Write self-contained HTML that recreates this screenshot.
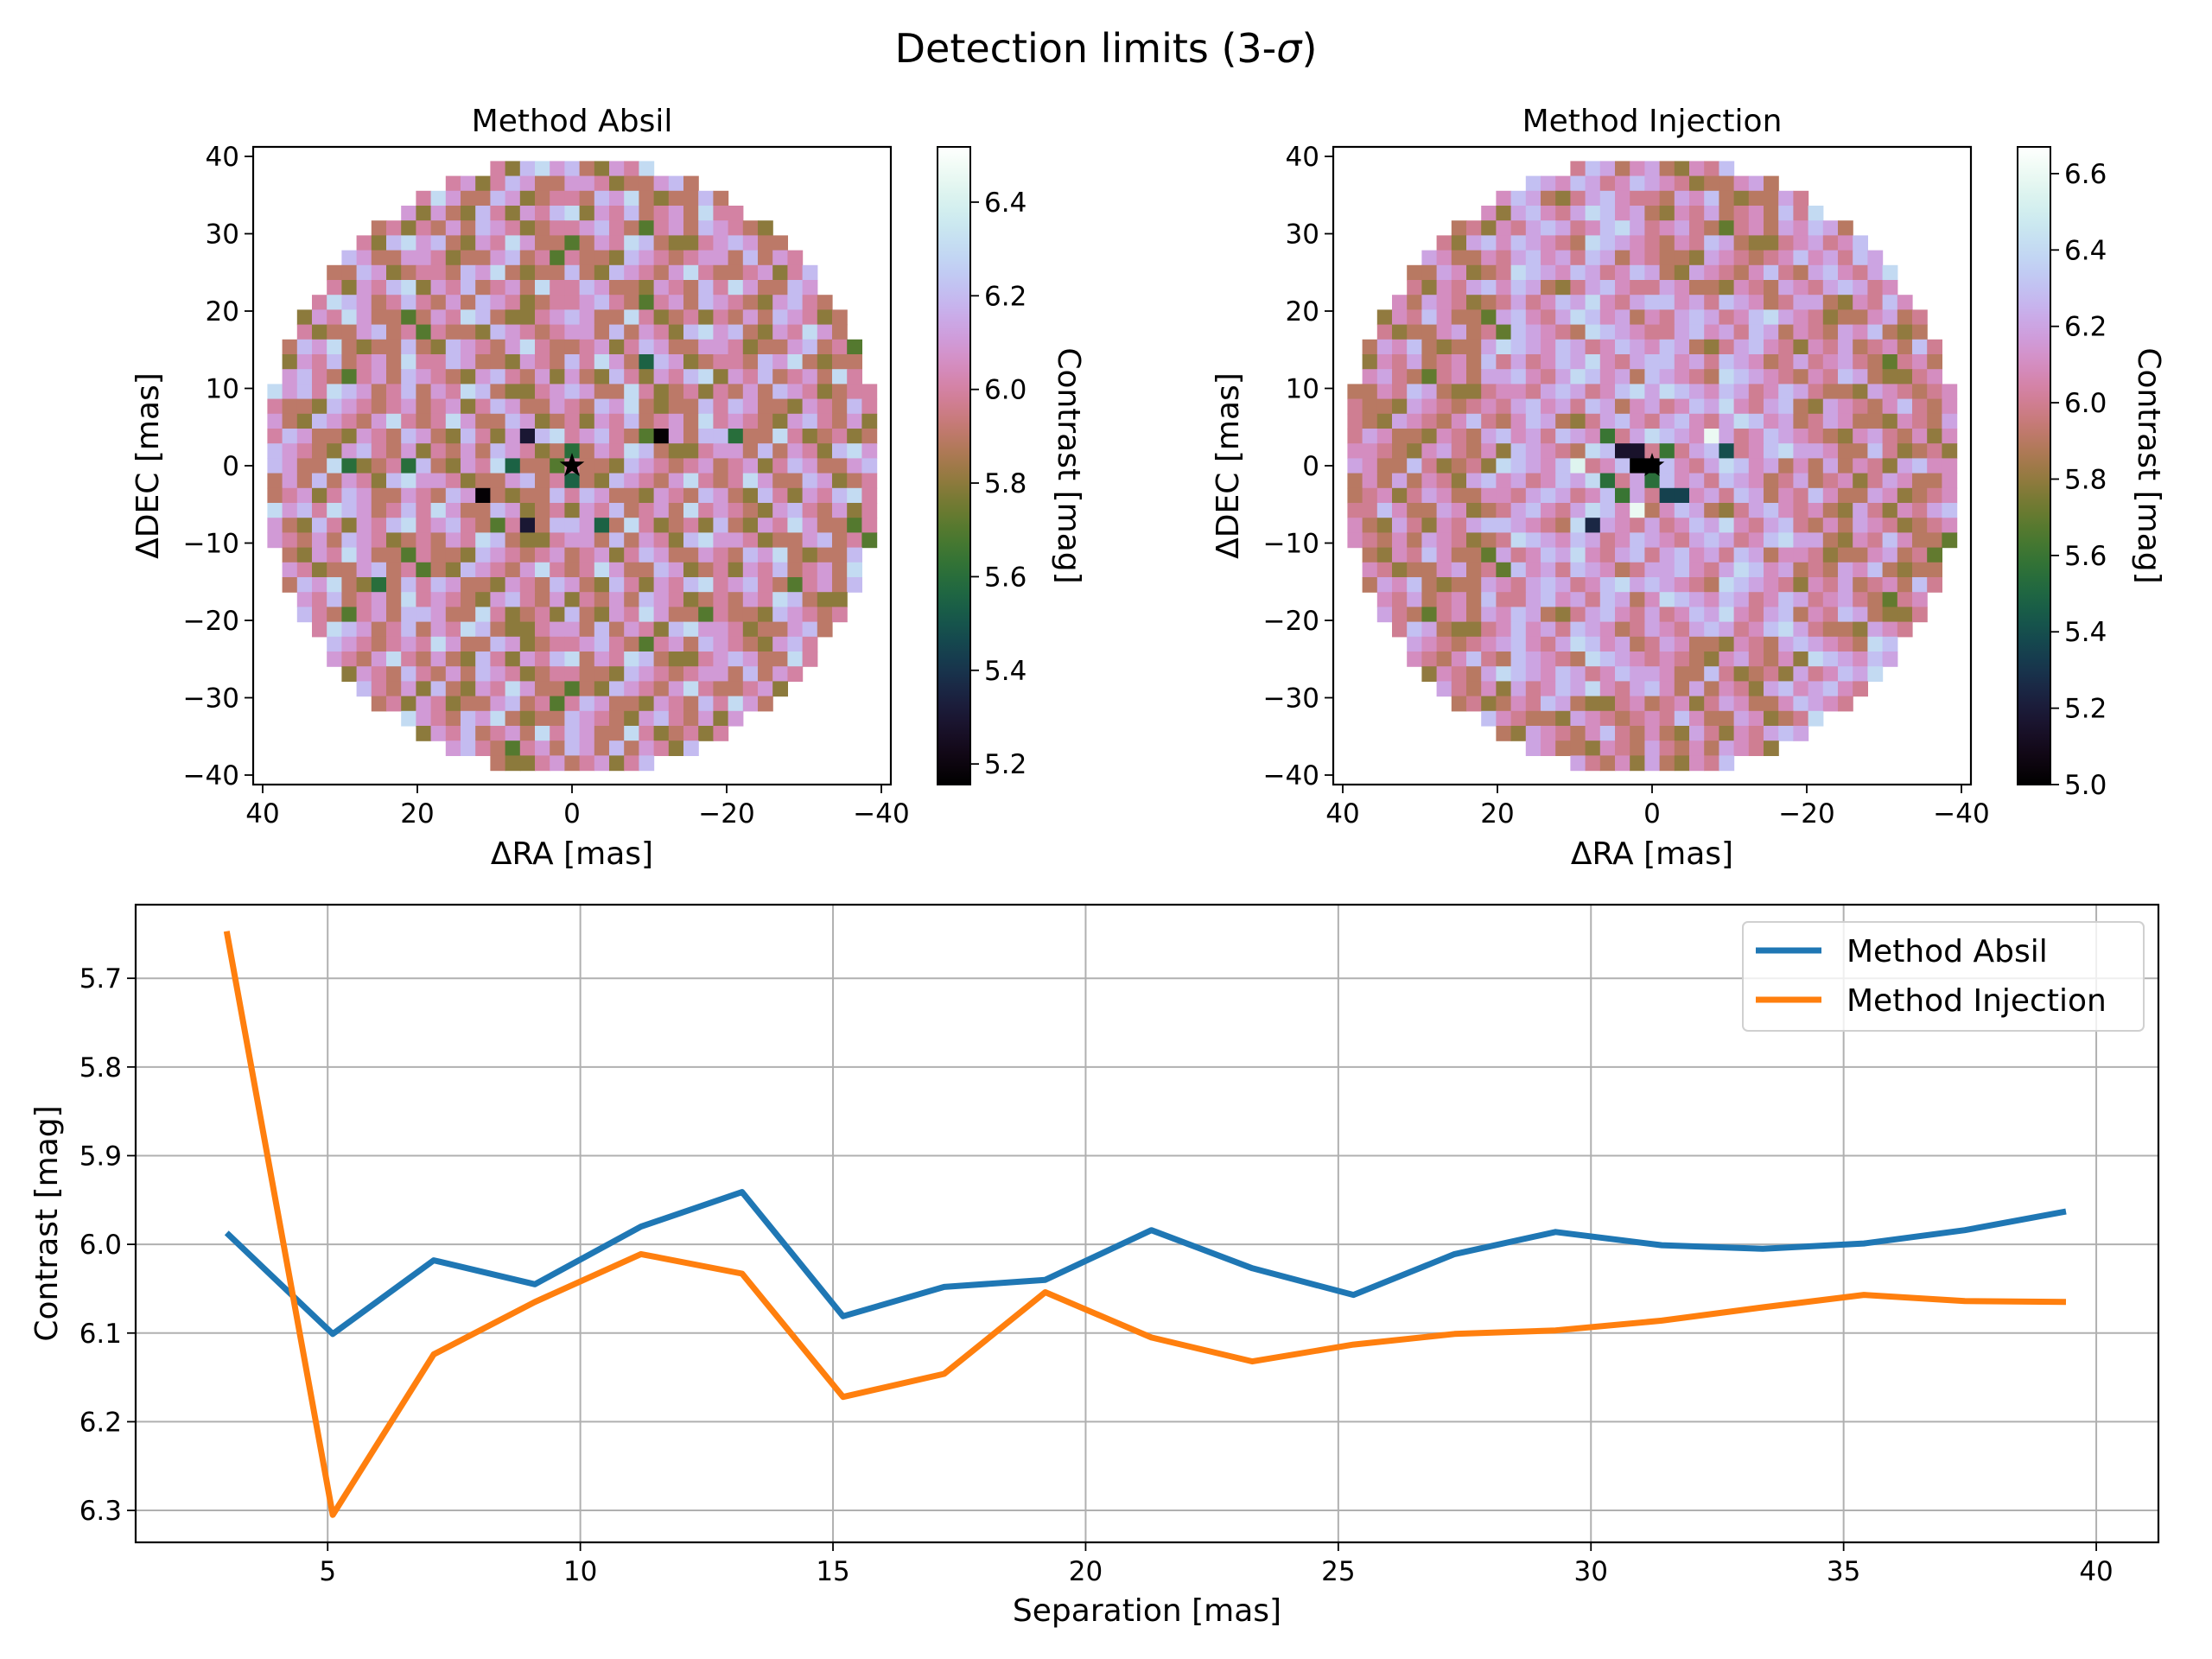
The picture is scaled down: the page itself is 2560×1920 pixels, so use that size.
<!DOCTYPE html>
<html><head><meta charset="utf-8">
<style>
html,body{margin:0;padding:0;background:#fff;}
svg{display:block;font-family:"DejaVu Sans","Liberation Sans",sans-serif;}
</style></head>
<body>
<svg id="fig" width="2560" height="1920" viewBox="0 0 2560 1920" xmlns="http://www.w3.org/2000/svg">
<rect width="2560" height="1920" fill="#fff"/>
<text x="1280" y="72" font-size="46" text-anchor="middle">Detection limits (3-<tspan font-style="italic">σ</tspan>)</text>
<g id="g1"></g>
<g id="g2"></g>
<g id="g3"></g>
</svg>
<script>
// ---- curve data ----
const separations = [3.0,5.1,7.1,9.1,11.2,13.2,15.2,17.2,19.2,21.3,23.3,25.3,27.3,29.3,31.4,33.4,35.4,37.4,39.4];
const absilValues = [5.987,6.101,6.018,6.045,5.980,5.941,6.081,6.048,6.040,5.984,6.027,6.057,6.011,5.986,6.001,6.005,5.999,5.984,5.963];
const injectionValues = [5.647,6.305,6.124,6.065,6.011,6.033,6.172,6.146,6.054,6.105,6.132,6.113,6.101,6.097,6.086,6.071,6.057,6.064,6.065];
const sepTicks = [5,10,15,20,25,30,35,40];
const contrastTicks = [5.7,5.8,5.9,6.0,6.1,6.2,6.3];
const raTicks = [40,20,0,-20,-40];
const decTicks = [40,30,20,10,0,-10,-20,-30,-40];
const cbar1Ticks = [5.2,5.4,5.6,5.8,6.0,6.2,6.4];
const cbar2Ticks = [5.0,5.2,5.4,5.6,5.8,6.0,6.2,6.4,6.6];
// heatmap cell letters: a=5.1, b=5.2 ... j=6.0, k=6.1, l=6.2, m=6.3, n=6.4, o=6.5
const cellGroups = {
A:"jiihlkjijk", B:"ihlkjikmji", C:"jlkiihkjil", D:"kjihkljikh",
E:"lkiimjhijh", F:"kilikjhlmk", G:"ijkhjlkiik", H:"jmkiilkhij",
I:"kihljhkjlm", J:"jikilkjhij", K:"lihkjmkiig", L:"kjhiiklijg",
M:"jilkmihiil", N:"hkjlijkimj", O:"jkljigjkil", P:"ikjmlihhjk",
a:"lmkjlnmkli", b:"kjlmljkmnl", c:"mlkjinmlkj", d:"jlmkljmlik",
e:"nmlkmljkml", f:"kmlihjlmkj", g:"ljkmlnkjlm", h:"mkljmlkijl"
};
const absilRows = ["AFKPj","kBGLA","CHMBi","lDINC","EJODj","iFKPE","GLAFh","jHMBG","INCHl","hJODI",
"KPEJj","iLAFK","MBGLm","jNCHM","ODINk","hPEJO","AGMCj","kBHND","CIOEi","lDJPF","EKAGl",
"iFLBH","GMCIj","hHNDJ","IOEKj","kJPFL","KAGMl","iLBHN","MCIOi","jNDJP","OEKAj","hPFLB",
"AHODk","iBIPE","CJAFi","jDKBG","ELCHj","kFMDI","GNEJk","iHOFK","IPGLk"];
const injectionRows = ["AdKbk","kBeLc","CfMdk","iDaNe","EbOfk","jFcPg","GdAhk","kHeBa","IfCbk","iJghK",
"KabLk","jLcdM","MefNk","kNghO","OacPk","iPbeA","AdgBk","jBfaC","CheDk","kDcbE","EeaFk",
"iFghG","GbdHk","jHafI","IcgJk","kJebK","KgdLk","iLhaM","MbcNk","jNdeO","OfgPk","kPhbA",
"AaCck","iBcDe","CeEgk","jDgFa","EPGck","kFAHe","GBIgk","iHCJa","IDKck"];
const absilOverrides = [[26,18,5.17],[17,18,5.3],[14,22,5.17],[17,24,5.3],[9,20,5.6],[22,24,5.55],[20,19,5.6],[20,21,5.55],[5,20,5.6],[16,20,5.55],[25,13,5.55],[31,18,5.6],[7,28,5.6]];
const injectionOverrides = [[19,20,5.0],[20,20,5.0],[18,19,5.15],[19,19,5.15],[21,22,5.35],[22,22,5.35],[20,21,5.55],[17,21,5.55],[25,19,5.4],[16,24,5.25],[17,18,5.6],[21,19,5.6],[18,22,5.6],[24,18,6.6],[15,20,6.55],[19,23,6.6]];

function cubehelix(x){
  const a = x*(1-x)/2, phi = 2*Math.PI*(0.5/3 - 1.5*x);
  const c = Math.cos(phi), s = Math.sin(phi);
  let r = x + a*(-0.14861*c + 1.78277*s);
  let g = x + a*(-0.29227*c - 0.90649*s);
  let b = x + a*(1.97294*c);
  const f = v => Math.round(Math.max(0,Math.min(1,v))*255);
  return `rgb(${f(r)},${f(g)},${f(b)})`;
}
const NS = "http://www.w3.org/2000/svg";
function el(tag, attrs, parent){
  const e = document.createElementNS(NS, tag);
  for (const k in attrs) e.setAttribute(k, attrs[k]);
  parent.appendChild(e);
  return e;
}
function txt(parent, x, y, s, size, anchor, extra){
  const t = el('text', Object.assign({x:x, y:y, 'font-size':size, 'text-anchor':anchor||'middle'}, extra||{}), parent);
  t.textContent = s;
  return t;
}
function fmt(v){ return (v<0?'\u2212':'') + Math.abs(v); }
function expandRows(rows){
  return rows.map(code => {
    let s = '';
    for (const ch of code) s += cellGroups[ch] || ch;
    return s.split('').map(c => 5.1 + 0.1*(c.charCodeAt(0)-97));
  });
}

function drawMap(g, ax, rows, overrides, vmin, vmax, title, cbTicks, cbX){
  const L=ax, T=170, S=738, B=T+S;
  const cx = L+S/2, cy = T+S/2;
  const ppu = 8.95;
  const cell = 17.2;
  const N = 41;
  const x0 = cx - N*cell/2, y0 = cy - N*cell/2;
  const vals = expandRows(rows);
  overrides.forEach(d => { vals[d[1]][d[0]] = d[2]; });
  const cellsG = el('g', {}, g);
  
  
  for (let r=0;r<N;r++) for (let c=0;c<N;c++){
    const dx=c-20, dy=r-20;
    if (dx*dx+dy*dy>430) continue;
    let v = vals[r][c];
    if (v===undefined || isNaN(v)) v = 6.0;
    const t = Math.max(0,Math.min(1,(v-vmin)/(vmax-vmin)));
    const rc = el('rect', {x:(x0+c*cell).toFixed(2), y:(y0+r*cell).toFixed(2), width:(cell+0.6).toFixed(2), height:(cell+0.6).toFixed(2), fill:cubehelix(t)}, cellsG);
    
    
  }
  const sp=[]; for(let i=0;i<10;i++){const rr=i%2?6:15, a=-Math.PI/2+i*Math.PI/5; sp.push((cx+rr*Math.cos(a)).toFixed(1)+','+(cy+rr*Math.sin(a)).toFixed(1));}
  const star = el('polygon', {points:sp.join(' '), fill:'#000'}, g);
  
  
  const fr = el('rect', {x:L, y:T, width:S, height:S, fill:'none', stroke:'#000', 'stroke-width':2.2}, g);
  
  
  raTicks.forEach(v => {
    const x = cx - v*ppu;
    el('line', {x1:x, y1:B, x2:x, y2:B+10, stroke:'#000', 'stroke-width':1.8}, g);
    const t = txt(g, x, B+44, fmt(v), 31);
    
    
  });
  decTicks.forEach(v => {
    const y = cy - v*ppu;
    el('line', {x1:L, y1:y, x2:L-10, y2:y, stroke:'#000', 'stroke-width':1.8}, g);
    const t = txt(g, L-16, y+11, fmt(v), 31, 'end');
    
    
  });
  const tt = txt(g, cx, 152, title, 36);
  
  
  const xl = txt(g, cx, 1000, 'ΔRA [mas]', 36);
  
  
  const yl = txt(g, 0, 0, 'ΔDEC [mas]', 36, 'middle', {transform:`translate(${L-110},${cy}) rotate(-90)`});
  
  
  const gid = 'cg'+Math.round(cbX);
  const defs = el('defs', {}, g);
  const lg = el('linearGradient', {id:gid, x1:0, y1:1, x2:0, y2:0}, defs);
  for (let i=0;i<=40;i++) el('stop', {offset:(i/40), 'stop-color':cubehelix(i/40)}, lg);
  const cb = el('rect', {x:cbX, y:T, width:38, height:S, fill:`url(#${gid})`, stroke:'#000', 'stroke-width':2}, g);
  
  
  cbTicks.forEach(v => {
    const y = B - (v-vmin)/(vmax-vmin)*S;
    el('line', {x1:cbX+38, y1:y, x2:cbX+48, y2:y, stroke:'#000', 'stroke-width':1.8}, g);
    const t = txt(g, cbX+54, y+11, v.toFixed(1), 31, 'start');
    
    
  });
  const cl = txt(g, 0, 0, 'Contrast [mag]', 36, 'middle', {transform:`translate(${cbX+140},${cy}) rotate(90)`});
  
  
}
drawMap(document.getElementById('g1'), 293, absilRows, absilOverrides, 5.156, 6.518, 'Method Absil', cbar1Ticks, 1085);
drawMap(document.getElementById('g2'), 1543, injectionRows, injectionOverrides, 5.0, 6.67, 'Method Injection', cbar2Ticks, 2335);

(function(){
  const g = document.getElementById('g3');
  const L=157, R=2498, T=1047, B=1785;
  const xmin=1.20, xmax=41.23, ymin=5.617, ymax=6.336;
  const X = v => L + (v-xmin)/(xmax-xmin)*(R-L);
  const Y = v => T + (v-ymin)/(ymax-ymin)*(B-T);
  sepTicks.forEach(v => {
    const gl = el('line', {x1:X(v), y1:T, x2:X(v), y2:B, stroke:'#b0b0b0', 'stroke-width':2}, g);
    
    
    el('line', {x1:X(v), y1:B, x2:X(v), y2:B+10, stroke:'#000', 'stroke-width':1.8}, g);
    const t = txt(g, X(v), B+44, String(v), 31);
    
    
  });
  contrastTicks.forEach(v => {
    const gl = el('line', {x1:L, y1:Y(v), x2:R, y2:Y(v), stroke:'#b0b0b0', 'stroke-width':2}, g);
    
    
    el('line', {x1:L, y1:Y(v), x2:L-10, y2:Y(v), stroke:'#000', 'stroke-width':1.8}, g);
    const t = txt(g, L-16, Y(v)+11, v.toFixed(1), 31, 'end');
    
    
  });
  const pa = el('polyline', {points:separations.map((s,i)=>X(s).toFixed(1)+','+Y(absilValues[i]).toFixed(1)).join(' '), fill:'none', stroke:'#1f77b4', 'stroke-width':7, 'stroke-linejoin':'round'}, g);
  
  
  const pi = el('polyline', {points:separations.map((s,i)=>X(s).toFixed(1)+','+Y(injectionValues[i]).toFixed(1)).join(' '), fill:'none', stroke:'#ff7f0e', 'stroke-width':7, 'stroke-linejoin':'round'}, g);
  
  
  const fr = el('rect', {x:L, y:T, width:R-L, height:B-T, fill:'none', stroke:'#000', 'stroke-width':2.2}, g);
  
  
  const xl = txt(g, (L+R)/2, 1876, 'Separation [mas]', 36);
  
  
  const yl = txt(g, 0, 0, 'Contrast [mag]', 36, 'middle', {transform:`translate(66,${(T+B)/2}) rotate(-90)`});
  
  
  const lg = el('g', {}, g);
  
  
  el('rect', {x:2017, y:1067, width:464, height:126, rx:6, fill:'#fff', 'fill-opacity':0.8, stroke:'#d0d0d0', 'stroke-width':2}, lg);
  const entries = [['Method Absil','#1f77b4',1100],['Method Injection','#ff7f0e',1157]];
  entries.forEach(e => {
    const ln = el('line', {x1:2032, y1:e[2], x2:2108, y2:e[2], stroke:e[1], 'stroke-width':7}, lg);
    
    
    const t = txt(lg, 2137, e[2]+13, e[0], 36, 'start');
    
    
  });
})();
</script>
</body></html>
